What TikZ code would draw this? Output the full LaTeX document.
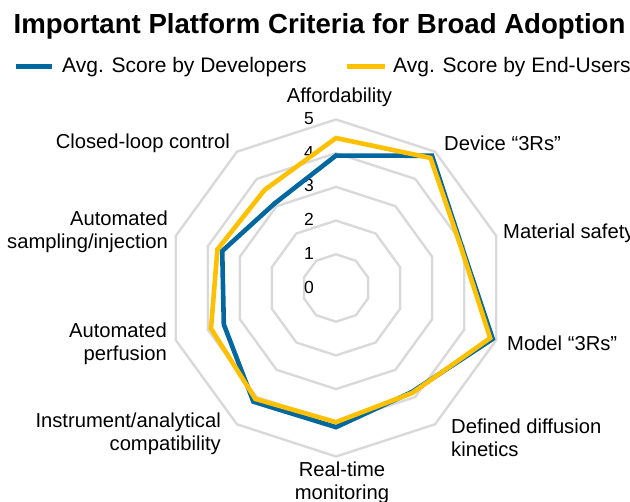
\documentclass[tikz,border=0pt]{standalone}
\usepackage{fontspec}
\setmainfont{Liberation Sans}
\usetikzlibrary{positioning}
\tikzset{>=latex}
\definecolor{devblue}{RGB}{0,104,158}
\definecolor{useryellow}{RGB}{255,192,0}
\definecolor{gridgray}{RGB}{217,217,217}
\def\ringthickness{2.4pt}
\def\seriesthickness{4.6pt}
\def\unit{33.7}
\tikzset{
    axislabel/.style={inner sep=0pt, font=\fontsize{20.2}{23}\selectfont},
    legendlabel/.style={inner sep=0pt, font=\fontsize{21}{24}\selectfont},
    ticklabel/.style={inner sep=0pt, font=\fontsize{17.5}{20}\selectfont},
    series/.style={line width=\seriesthickness, line join=miter, miter limit=4}
}

\begin{document}
\begin{tikzpicture}[x=1pt, y=1pt]
    \useasboundingbox (0, 0) rectangle (630, 502);
    % title and legend
    \node[inner sep=0pt, font=\fontsize{27.6}{30}\selectfont\bfseries] (title) at (319.5, 476) {Important Platform Criteria for Broad Adoption};
    \coordinate (devA) at (16, 435);
    \coordinate (devB) at (52, 435);
    \draw[devblue, line width=5pt] (devA) -- (devB);
    \node[legendlabel, anchor=west] (devleg) at (62, 435) {Avg. Score by Developers};
    \coordinate (userA) at (347, 435);
    \coordinate (userB) at (385, 435);
    \draw[useryellow, line width=5pt] (userA) -- (userB);
    \node[legendlabel, anchor=west] (userleg) at (393, 435) {Avg. Score by End-Users};
    \begin{scope}[shift={(336, 214)}]
        % grid rings
        \foreach \r in {1,...,5}
            \draw[gridgray, line width=\ringthickness] (90:\r*\unit) \foreach \a in {1,...,9} {-- (90-36*\a:\r*\unit)} -- cycle;
        \foreach \k in {0,...,5}
            \node[ticklabel] (tick\k) at (-27, \k*\unit+1) {\k};
        % developers
        \draw[series, devblue] (90:3.93*\unit) -- (54:4.85*\unit) -- (18:3.93*\unit) -- (-18:4.89*\unit)
            -- (-54:3.82*\unit) -- (-90:4.13*\unit) -- (-126:4.17*\unit) -- (-162:3.5*\unit)
            -- (162:3.55*\unit) -- (126:3.1*\unit) -- cycle;
        % end-users
        \draw[series, useryellow] (90:4.45*\unit) -- (54:4.77*\unit) -- (18:3.9*\unit) -- (-18:4.81*\unit)
            -- (-54:3.85*\unit) -- (-90:3.98*\unit) -- (-126:4.07*\unit) -- (-162:3.9*\unit)
            -- (162:3.7*\unit) -- (126:3.6*\unit) -- cycle;
    \end{scope}
    % axis labels
    \node[axislabel] (afford) at (339.5, 405) {Affordability};
    \node[axislabel, anchor=west] (device) at (444, 359) {Device ``3Rs''};
    \node[axislabel, anchor=west] (material) at (503, 269) {Material safety};
    \node[axislabel, anchor=west] (model) at (507, 159) {Model ``3Rs''};
    \node[axislabel, anchor=west, align=left] (diffusion) at (451, 64) {Defined diffusion\\kinetics};
    \node[axislabel, align=center] (realtime) at (342, 19.5) {Real-time\\monitoring};
    \node[axislabel, anchor=east, align=right] (instrument) at (221, 68.5) {Instrument/analytical\\compatibility};
    \node[axislabel, anchor=east, align=right] (perfusion) at (167, 158.5) {Automated\\perfusion};
    \node[axislabel, anchor=east, align=right] (sampling) at (168, 270) {Automated\\sampling/injection};
    \node[axislabel, anchor=east] (closedloop) at (230, 359) {Closed-loop control};
\end{tikzpicture}
\end{document}
